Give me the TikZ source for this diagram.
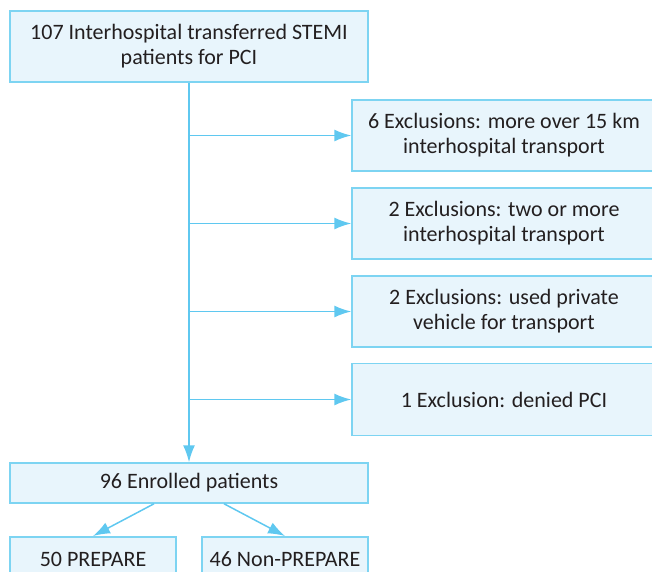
\documentclass[tikz,border=0pt]{standalone}
\usepackage{fontspec}
\setmainfont{Carlito}
\usetikzlibrary{arrows.meta,positioning}
\definecolor{boxline}{RGB}{125,212,242}
\definecolor{boxfill}{RGB}{232,245,252}
\definecolor{arrowblue}{RGB}{95,200,240}
\definecolor{textgray}{RGB}{35,31,32}
\tikzset{
  flowbox/.style={draw=boxline, fill=boxfill, line width=1.5pt, align=center,
    inner sep=0pt, text=textgray, font=\fontsize{22}{25}\selectfont},
  flowarrow/.style={draw=arrowblue, line width=1.5pt, -{Latex[length=17pt,width=12pt]}},
}

\begin{document}
\begin{tikzpicture}[x=1pt,y=1pt,yscale=-1]
\useasboundingbox (0,0) rectangle (652,571);

% Top box
\node [flowbox, minimum width=358pt, minimum height=71pt] (total) at (189,46.5)
  {107 Interhospital transferred STEMI\\patients for PCI};

% Exclusion boxes
\node [flowbox, minimum width=304pt, minimum height=71pt] (excl1) at (504,135.5)
  {6 Exclusions: more over 15 km\\interhospital transport};
\node [flowbox, minimum width=304pt, minimum height=71pt] (excl2) at (504,223.5)
  {2 Exclusions: two or more\\interhospital transport};
\node [flowbox, minimum width=304pt, minimum height=71pt] (excl3) at (504,311.5)
  {2 Exclusions: used private\\vehicle for transport};
\node [flowbox, minimum width=304pt, minimum height=72pt] (excl4) at (504,399.5)
  {1 Exclusion: denied PCI};

% Enrolled box
\node [flowbox, minimum width=358pt, minimum height=40pt] (enrolled) at (189,483)
  {96 Enrolled patients};

% Group boxes
\node [flowbox, minimum width=166pt, minimum height=44pt, anchor=north] (prepare) at (93,536)
  {\raisebox{-8pt}[0pt][0pt]{50 PREPARE}};
\node [flowbox, minimum width=166pt, minimum height=44pt, anchor=north] (nonprepare) at (285,536)
  {\raisebox{-8pt}[0pt][0pt]{46 Non-PREPARE}};

% Trunk and branches
\coordinate (b1) at (189,135.5);
\coordinate (b2) at (189,223.5);
\coordinate (b3) at (189,311.5);
\coordinate (b4) at (189,399.5);
\draw [flowarrow] (total.south) -- (enrolled.north);
\draw [flowarrow] (b1) -- (excl1.west);
\draw [flowarrow] (b2) -- (excl2.west);
\draw [flowarrow] (b3) -- (excl3.west);
\draw [flowarrow] (b4) -- (excl4.west);

% Split into groups
\draw [flowarrow] ([xshift=-35pt]enrolled.south) -- (prepare.north);
\draw [flowarrow] ([xshift=35pt]enrolled.south) -- (nonprepare.north);

\end{tikzpicture}
\end{document}
